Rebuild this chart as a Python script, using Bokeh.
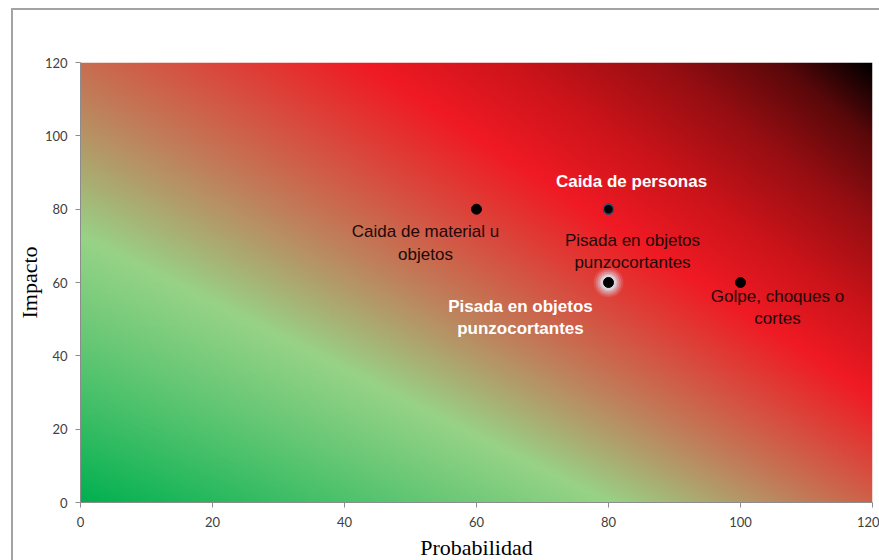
import numpy as np
from bokeh.plotting import figure
from bokeh.models import Range1d, ColumnDataSource, FixedTicker
from bokeh.core.properties import value
from bokeh.embed import file_html
from bokeh.resources import INLINE

# ---- data ----
probabilidad = [60, 80, 80, 100]
impacto = [80, 80, 60, 60]
riesgos = ["Caida de material u\nobjetos", "Caida de personas",
           "Pisada en objetos\npunzocortantes", "Golpe, choques o\ncortes"]
x_ticks = [0, 20, 40, 60, 80, 100, 120]
y_ticks = [0, 20, 40, 60, 80, 100, 120]

# ---- figure ----
p = figure(width=868, height=552, output_backend="svg", toolbar_location=None,
           x_range=Range1d(0, 120), y_range=Range1d(0, 120),
           min_border_left=63, min_border_right=9, min_border_top=52, min_border_bottom=57)
p.styles = {"border-left": "2px solid #a3a3a3", "border-top": "2px solid #a3a3a3",
            "margin-left": "11px", "margin-top": "8px"}
p.outline_line_color = None
p.grid.visible = False
p.background_fill_color = "white"

# background gradient (green -> light green -> red -> black)
nx, ny = 480, 300
gx = np.linspace(0, 120, nx)
gy = np.linspace(0, 120, ny)
X, Y = np.meshgrid(gx, gy)
c = (X + 1.408 * Y) / (1 + 0.003846 * Y)
stops = [0.0, 80.0, 145.0, 160.0, 176.0, 188.0, 197.7]
cols = np.array([[0, 176, 80], [152, 211, 135], [240, 26, 36], [205, 20, 26],
                 [150, 14, 18], [90, 8, 10], [0, 0, 0]], float)
img = np.zeros((ny, nx), dtype=np.uint32)
view = img.view(dtype=np.uint8).reshape((ny, nx, 4))
for k in range(3):
    view[:, :, k] = np.interp(c, stops, cols[:, k]).astype(np.uint8)
view[:, :, 3] = 255
p.image_rgba(image=[img], x=0, y=0, dw=120, dh=120)

src = ColumnDataSource(dict(x=probabilidad, y=impacto, label=riesgos))

# glow around the highlighted point
for s, a in [(30, 0.12), (26, 0.2), (22, 0.3), (18, 0.45), (15, 0.6)]:
    p.scatter(x=[probabilidad[2]], y=[impacto[2]], size=s, fill_color="#dde6f3",
              fill_alpha=a, line_color=None)

p.scatter(x="x", y="y", source=src, size=10, fill_color="black", line_color="black")
p.scatter(x=[probabilidad[1]], y=[impacto[1]], size=10, fill_color="black",
          line_color="#3a4a70", line_width=1.5)

# labels
dark = "#220808"
font = value("Liberation Sans")
def lab(i, dx, dy, color, style):
    p.text(x=[probabilidad[i]], y=[impacto[i]], text=[riesgos[i]], x_offset=dx, y_offset=dy,
           text_color=color, text_font=font, text_font_size="17px", text_font_style=style,
           text_align="center", text_baseline="middle", text_line_height=1.2)

lab(0, -51, 34, dark, "normal")
lab(1, 23, -28, "white", "bold")
lab(2, 24, -31, dark, "normal")
lab(2, -88, 35, "white", "bold")
lab(3, 37, 25, dark, "normal")

# axes
for ax, tk in ((p.xaxis, x_ticks), (p.yaxis, y_ticks)):
    ax.ticker = FixedTicker(ticks=tk)
    ax.axis_line_color = "#8c8c8c"
    ax.major_tick_line_color = "#8c8c8c"
    ax.major_tick_in = 0
    ax.major_tick_out = 5
    ax.minor_tick_line_color = None
    ax.major_label_text_font = "Lato"
    ax.major_label_text_font_size = "13px"
    ax.major_label_text_color = "#404040"
    ax.axis_label_text_font = "Liberation Serif"
    ax.axis_label_text_font_size = "22px"
    ax.axis_label_text_font_style = "normal"
    ax.axis_label_text_color = "black"

p.xaxis.axis_label = "Probabilidad"
p.yaxis.axis_label = "Impacto"
p.xaxis.major_label_standoff = 9
p.yaxis.major_label_standoff = 8
p.xaxis.axis_label_standoff = 5
p.yaxis.axis_label_standoff = 0

open("out.html", "w").write(file_html(p, INLINE))
